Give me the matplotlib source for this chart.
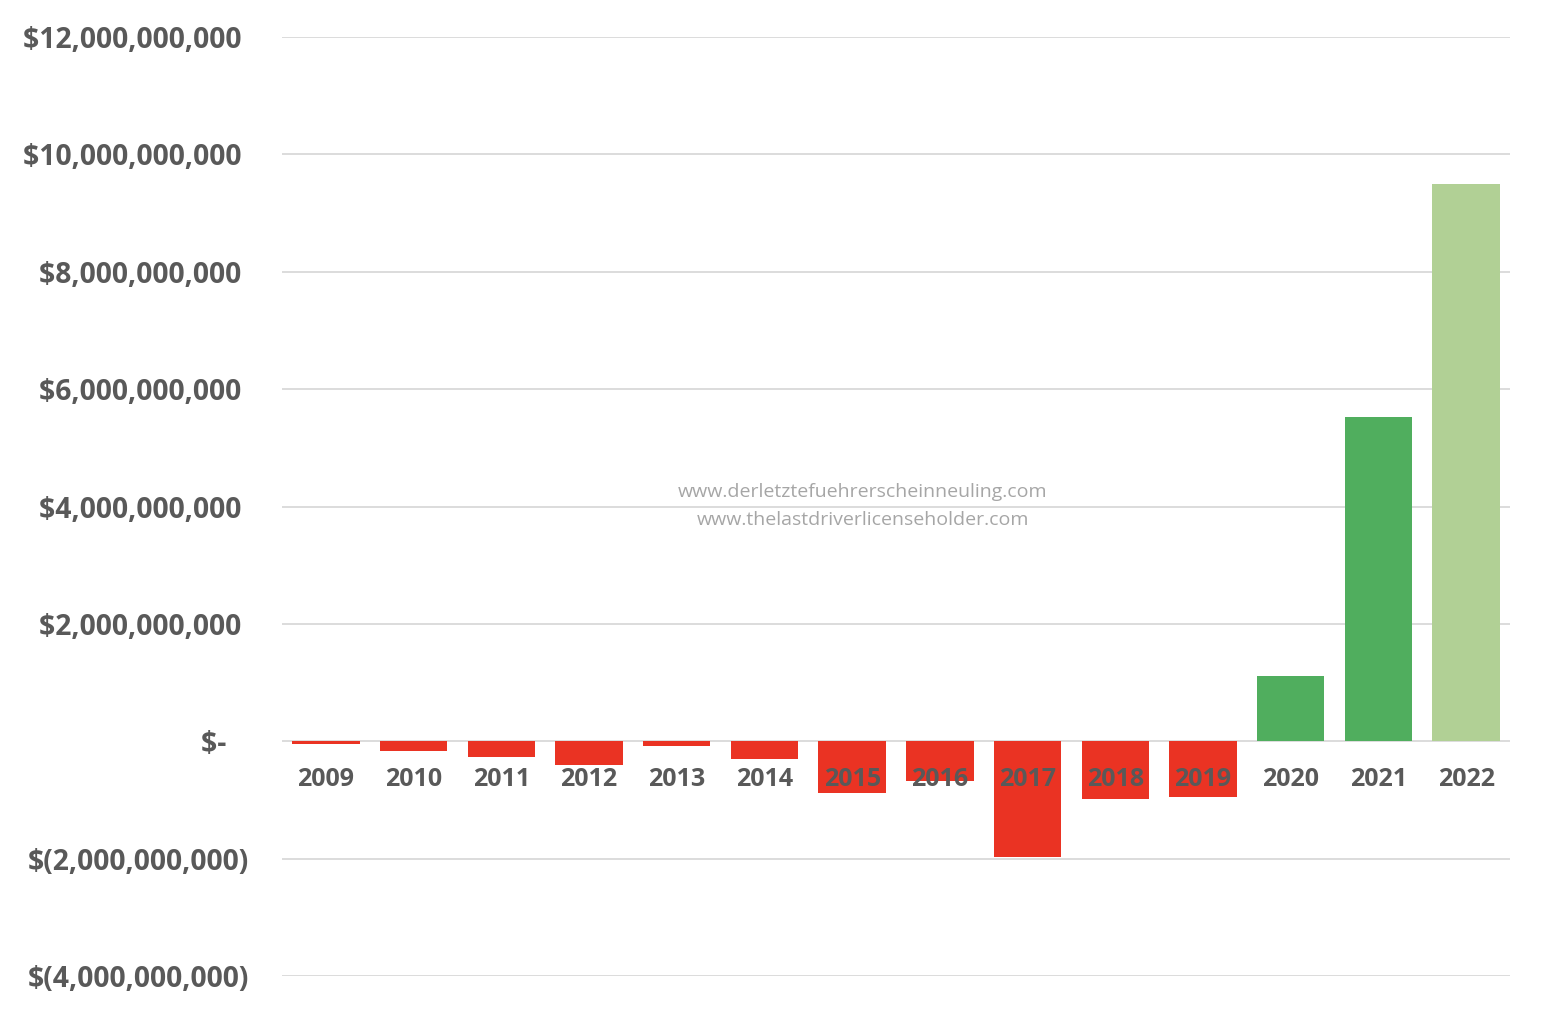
import matplotlib
matplotlib.use("Agg")
import matplotlib.pyplot as plt
from matplotlib.ticker import FuncFormatter

years = ["2009", "2010", "2011", "2012", "2013", "2014", "2015", "2016",
         "2017", "2018", "2019", "2020", "2021", "2022"]
net_income = [-0.05e9, -0.17e9, -0.27e9, -0.40e9, -0.08e9, -0.30e9, -0.89e9,
              -0.67e9, -1.97e9, -0.98e9, -0.95e9, 1.12e9, 5.52e9, 9.49e9]
bar_colors = ["#EA3323"] * 11 + ["#50AE5E", "#50AE5E", "#B1D095"]
y_ticks = [-4e9, -2e9, 0, 2e9, 4e9, 6e9, 8e9, 10e9, 12e9]
watermark = ["www.derletztefuehrerscheinneuling.com",
             "www.thelastdriverlicenseholder.com"]

plt.rcParams['font.family'] = ['Open Sans', 'DejaVu Sans']

fig = plt.figure(figsize=(15.56, 10.22), dpi=100)
ax = fig.add_axes([282/1556, 1 - 976/1022, (1510-282)/1556, (976-37)/1022])

x = list(range(len(years)))
ax.bar(x, net_income, width=0.77, color=bar_colors, zorder=2)

ax.set_xlim(-0.5, len(years) - 0.5)
ax.set_ylim(-4e9, 12e9)
ax.set_yticks(y_ticks)

def fmt(v, pos):
    if abs(v) < 1:
        return "$-   "
    s = f"{abs(v):,.0f}"
    if v < 0:
        return f"$({s})"
    return f"${s} "

ax.yaxis.set_major_formatter(FuncFormatter(fmt))
ax.tick_params(axis='y', length=0, pad=24, labelsize=20.3, labelcolor="#595959")
for lab in ax.get_yticklabels():
    lab.set_fontweight('bold')

ax.grid(axis='y', color="#D9D9D9", linewidth=1.3, zorder=0)
ax.set_axisbelow(True)
for s in ax.spines.values():
    s.set_visible(False)
ax.set_xticks([])

for xi, yr in zip(x, years):
    ax.annotate(yr, xy=(xi, 0), xytext=(0, -27.5), textcoords='offset points',
                ha='center', va='center', fontsize=18, fontweight='bold',
                color="#595959", zorder=5)

ax.text(0.473, 0.5154, watermark[0], transform=ax.transAxes, ha='center',
        va='center', fontsize=14, color="#A6A6A6")
ax.text(0.473, 0.4856, watermark[1], transform=ax.transAxes, ha='center',
        va='center', fontsize=14, color="#A6A6A6")

fig.savefig("out.png", dpi=100, facecolor="white")
